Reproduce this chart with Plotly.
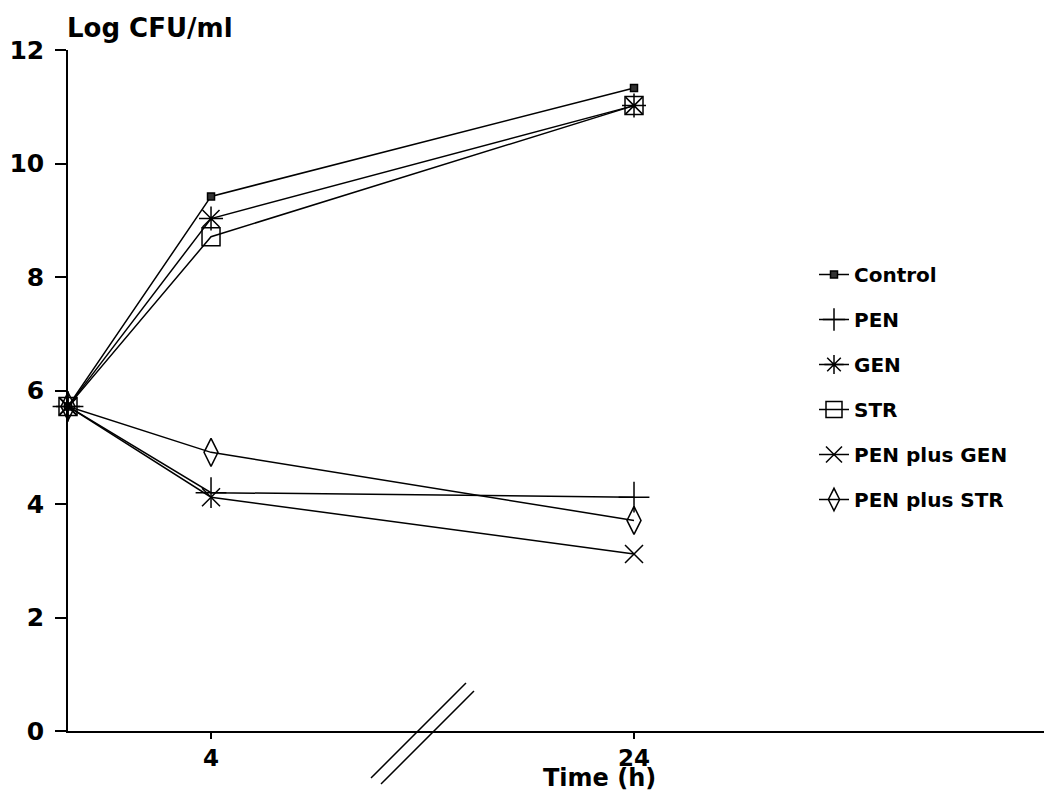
import plotly.graph_objects as go

# ---- data ----
time_h = [0, 4, 24]
series_names = ["Control", "PEN", "GEN", "STR", "PEN plus GEN", "PEN plus STR"]
control = [5.72, 9.42, 11.33]
pen = [5.72, 4.2, 4.12]
gen = [5.72, 9.03, 11.02]
strp = [5.72, 8.71, 11.02]
pen_gen = [5.72, 4.12, 3.12]
pen_str = [5.72, 4.91, 3.71]
y_ticks = [0, 2, 4, 6, 8, 10, 12]
x_ticks = [4, 24]

# broken time axis: after 4 h, the axis is compressed
BREAK_AT = 4
COMPRESS = 0.5915


def pos(t):
    return t if t <= BREAK_AT else BREAK_AT + (t - BREAK_AT) * COMPRESS


xpos = [pos(t) for t in time_h]

FONT = "DejaVu Sans"

styles = [
    dict(symbol="square", size=7, color="#333", line=dict(color="black", width=1.5)),
    dict(symbol="cross-thin-open", size=22, color="black", line=dict(color="black", width=1.5)),
    dict(symbol="asterisk-open", size=20, color="black", line=dict(color="black", width=1.5)),
    dict(symbol="square-open", size=18, color="black", line=dict(color="black", width=1.5)),
    dict(symbol="x-thin-open", size=18, color="black", line=dict(color="black", width=1.5)),
    dict(symbol="diamond-tall-open", size=20, color="black", line=dict(color="black", width=1.5)),
]
values = [control, pen, gen, strp, pen_gen, pen_str]

fig = go.Figure()
for name, vals, st in zip(series_names, values, styles):
    fig.add_trace(go.Scatter(
        x=xpos, y=vals, name=name, mode="lines+markers",
        line=dict(color="black", width=1.5),
        marker=st, cliponaxis=False, legendgroup=name,
    ))

# page has an 8px body margin: the figure is drawn from (8, 8)
OFF = 8
W, H = 1052 - OFF, 793 - OFF
L, R, T, B = 68 - OFF, 0, 50 - OFF, 62
pw = W - L - R
ph = H - T - B


def px(xp):
    return (xp - OFF - L) / pw


def py(yp):
    return (H - B - (yp - OFF)) / ph


fig.update_layout(
    width=W, height=H,
    margin=dict(l=L, r=R, t=T, b=B),
    paper_bgcolor="white", plot_bgcolor="white",
    font=dict(family=FONT, color="black", weight="bold"),
    showlegend=True,
    legend=dict(
        x=px(814), y=py(255), xanchor="left", yanchor="top",
        font=dict(size=20, family=FONT, weight="bold"),
        tracegroupgap=16, traceorder="grouped",
        bgcolor="rgba(0,0,0,0)",
    ),
    xaxis=dict(
        range=[0, 27.52], showgrid=False, zeroline=False,
        showline=True, linecolor="black", linewidth=1.5,
        tickmode="array", tickvals=[pos(t) for t in x_ticks],
        ticktext=[str(t) for t in x_ticks],
        ticks="outside", ticklen=6, tickwidth=1.5, tickcolor="black",
        tickfont=dict(size=23, family=FONT, weight="bold"),
    ),
    yaxis=dict(
        range=[0, 12], showgrid=False, zeroline=False,
        showline=True, linecolor="black", linewidth=1.5,
        tickmode="array", tickvals=y_ticks,
        ticks="outside", ticklen=11, tickwidth=1.5, tickcolor="black",
        ticklabelstandoff=6,
        tickfont=dict(size=25, family=FONT, weight="bold"),
    ),
    annotations=[
        dict(text="Log CFU/ml", x=px(65), y=py(28), xref="paper", yref="paper",
             xanchor="left", yanchor="middle", showarrow=False,
             font=dict(size=26, family=FONT, weight="bold")),
        dict(text="Time (h)", x=px(599), y=py(793), xref="paper", yref="paper",
             xanchor="center", yanchor="bottom", showarrow=False, borderpad=0,
             font=dict(size=24, family=FONT, weight="bold")),
    ],
    shapes=[
        dict(type="line", xref="paper", yref="paper",
             x0=px(371), y0=py(778), x1=px(466), y1=py(683),
             line=dict(color="black", width=1.5)),
        dict(type="line", xref="paper", yref="paper",
             x0=px(381), y0=py(784), x1=px(474), y1=py(691),
             line=dict(color="black", width=1.5)),
    ],
)

fig.write_html("out.html")
